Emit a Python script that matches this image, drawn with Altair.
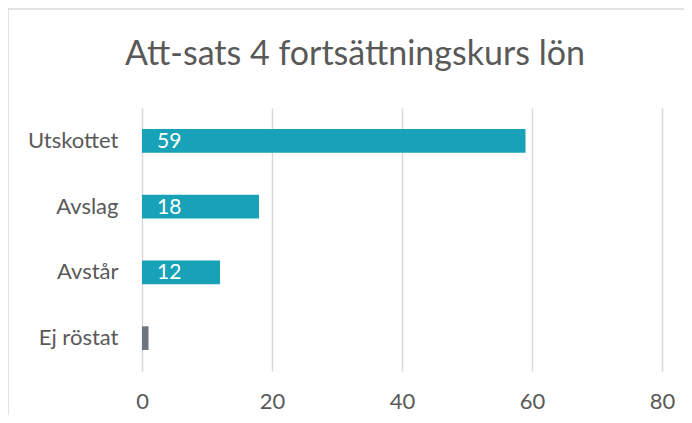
import altair as alt
import pandas as pd

title_text = "Att-sats 4 fortsättningskurs lön"
categories = ["Utskottet", "Avslag", "Avstår", "Ej röstat"]
values = [59, 18, 12, 1]
labels = ["59", "18", "12", ""]
colors = ["#17a2b8", "#17a2b8", "#17a2b8", "#6c757d"]
x_ticks = [0, 20, 40, 60, 80]

df = pd.DataFrame({"cat": categories, "val": values, "lab": labels, "col": colors})

FONT = "Lato"
GREY = "#595959"

base = alt.Chart(df)

bars = base.mark_bar().encode(
    y=alt.Y("cat:N", sort=categories, title=None,
            scale=alt.Scale(paddingInner=0.64, paddingOuter=0.32),
            axis=alt.Axis(domain=False, ticks=False, labelPadding=24,
                          labelFontSize=22, labelColor=GREY, labelFont=FONT)),
    x=alt.X("val:Q", title=None,
            scale=alt.Scale(domain=[0, 80], nice=False),
            axis=alt.Axis(values=x_ticks, domain=False, ticks=False, labelPadding=20,
                          labelFlush=False,
                          labelFontSize=22, labelColor=GREY, labelFont=FONT,
                          grid=True, gridColor="#d9d9d9", gridWidth=1.5)),
    color=alt.Color("col:N", scale=None),
)

text = base.mark_text(align="left", baseline="middle", dx=15, dy=1, fontSize=21,
                      color="white", font=FONT).encode(
    y=alt.Y("cat:N", sort=categories),
    x=alt.value(0),
    text="lab:N",
)

frame = alt.Chart(alt.Data(values=[{"t": title_text}]))
top_line = frame.mark_rule(color="#d9d9d9", strokeWidth=1.5).encode(
    x=alt.value(-134), x2=alt.value(700), y=alt.value(-99))
left_line = frame.mark_rule(color="#d9d9d9", strokeWidth=1.5).encode(
    x=alt.value(-134), y=alt.value(-99), y2=alt.value(320))
title = frame.mark_text(align="center", baseline="alphabetic", fontSize=34,
                        font=FONT, color=GREY).encode(
    x=alt.value(213), y=alt.value(-43), text="t:N")

chart = alt.layer(top_line, left_line, title, bars, text).properties(
    width=520,
    height=263,
    background="white",
    autosize=alt.AutoSizeParams(type="none"),
    padding={"left": 134, "top": 100, "right": 22, "bottom": 44},
).configure_view(stroke=None)

chart.save("out.html", embed_options={"renderer": "svg", "actions": False})
